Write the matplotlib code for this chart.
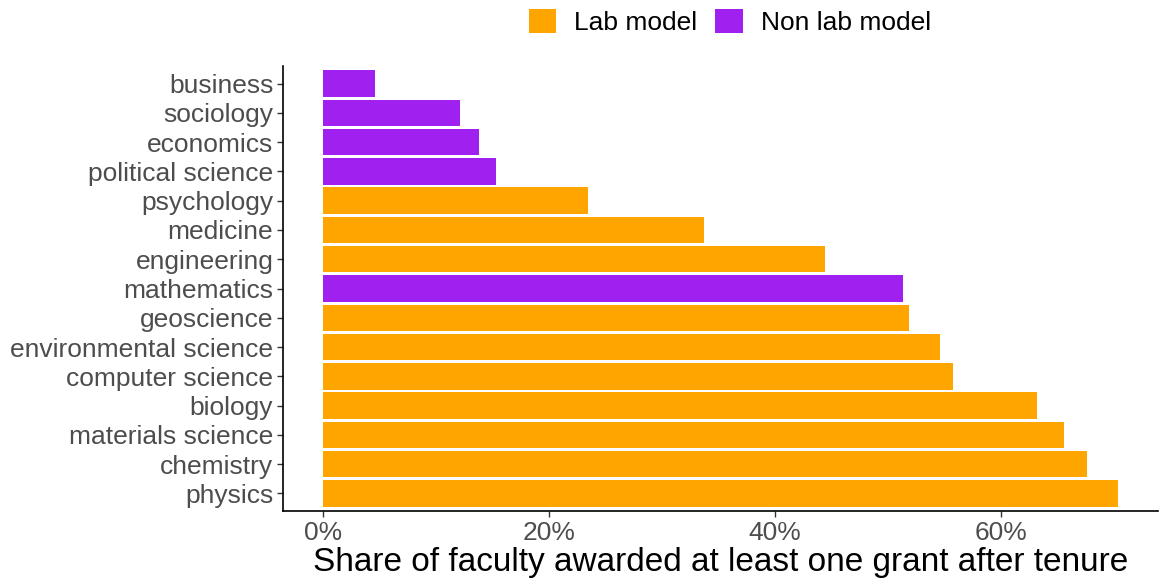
import matplotlib
matplotlib.use('Agg')
from matplotlib import pyplot as plt
from matplotlib.patches import Patch
from matplotlib.ticker import FuncFormatter

plt.rcParams['font.family'] = ['Liberation Sans', 'DejaVu Sans']

# fields, top to bottom
fields = ['business', 'sociology', 'economics', 'political science', 'psychology',
          'medicine', 'engineering', 'mathematics', 'geoscience',
          'environmental science', 'computer science', 'biology',
          'materials science', 'chemistry', 'physics']
# share of faculty with a grant after tenure (%)
share = [4.6, 12.1, 13.8, 15.3, 23.5, 33.7, 44.4, 51.3, 51.9, 54.6, 55.8,
         63.2, 65.6, 67.6, 70.4]
lab = [False, False, False, False, True, True, True, False, True, True, True,
       True, True, True, True]

lab_col = '#FFA500'
non_col = '#A020F0'

fig = plt.figure(figsize=(11.6, 5.84), dpi=100)
ax = fig.add_axes([283/1160, 1 - 511/584, 875/1160, 445/584])

n = len(fields)
ypos = list(range(n - 1, -1, -1))
cols = [lab_col if l else non_col for l in lab]
ax.barh(ypos, share, height=0.9, color=cols)

ax.set_yticks(ypos)
ax.set_yticklabels(fields)
ax.set_ylim(-0.6, n - 0.4)
ax.set_xlim(-3.52, 73.9)
ax.set_xticks([0, 20, 40, 60])
ax.xaxis.set_major_formatter(FuncFormatter(lambda v, p: '%d%%' % v))

for s in ['top', 'right']:
    ax.spines[s].set_visible(False)
ax.spines['left'].set_linewidth(1.2)
ax.spines['bottom'].set_linewidth(1.2)
ax.tick_params(axis='both', labelsize=19, colors='#4D4D4D', length=4, width=1, pad=3)
ax.tick_params(axis='both', color='#333333')

ax.set_xlabel('Share of faculty awarded at least one grant after tenure', fontsize=24, labelpad=2)

handles = [Patch(facecolor=lab_col, label='Lab model'), Patch(facecolor=non_col, label='Non lab model')]
fig.legend(handles=handles, loc='center', bbox_to_anchor=(730/1160, 1 - 22/584), ncol=2,
           frameon=False, fontsize=19, handlelength=1.03, handleheight=1.03,
           handletextpad=0.68, columnspacing=0.68)

fig.savefig('out.png', dpi=100)
